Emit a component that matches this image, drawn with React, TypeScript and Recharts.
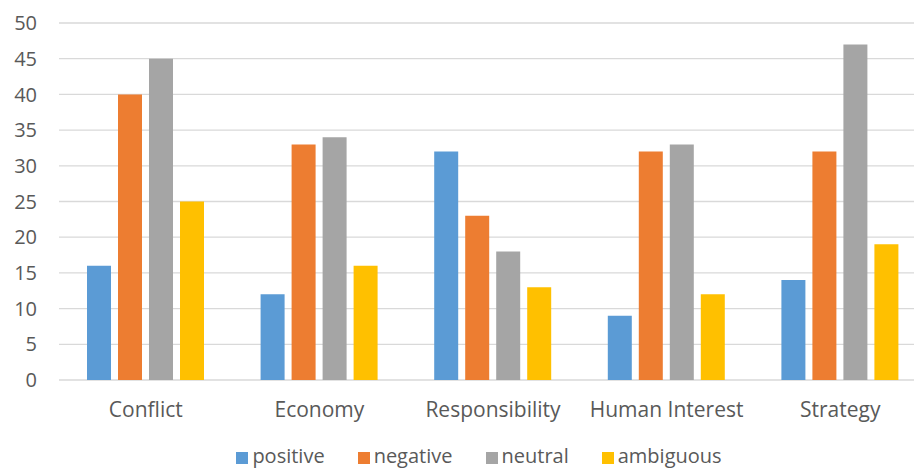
import { BarChart, Bar, XAxis, YAxis, CartesianGrid } from 'recharts';

const categories = ['Conflict', 'Economy', 'Responsibility', 'Human Interest', 'Strategy'];
const positive = [16, 12, 32, 9, 14];
const negative = [40, 33, 23, 32, 32];
const neutral = [45, 34, 18, 33, 47];
const ambiguous = [25, 16, 13, 12, 19];
const yTicks = [0, 5, 10, 15, 20, 25, 30, 35, 40, 45, 50];

const series = [
  { key: 'positive', color: '#5B9BD5' },
  { key: 'negative', color: '#ED7D31' },
  { key: 'neutral', color: '#A5A5A5' },
  { key: 'ambiguous', color: '#FFC000' },
];

const data = categories.map((name, i) => ({
  name,
  positive: positive[i],
  negative: negative[i],
  neutral: neutral[i],
  ambiguous: ambiguous[i],
}));

const FONT = '"Open Sans", sans-serif';
const TEXT = '#595959';

function LegendRow() {
  return (
    <div
      style={{
        position: 'absolute',
        top: 443,
        left: 0,
        width: 914,
        display: 'flex',
        justifyContent: 'center',
        gap: 33,
        paddingLeft: 44,
        boxSizing: 'border-box',
        fontFamily: FONT,
        fontSize: 20,
        color: TEXT,
        lineHeight: '26px',
      }}
    >
      {series.map((s) => (
        <div key={s.key} style={{ display: 'flex', alignItems: 'center' }}>
          <span style={{ width: 12, height: 12, background: s.color, marginRight: 4, marginTop: 3 }} />
          <span>{s.key}</span>
        </div>
      ))}
    </div>
  );
}

export default function App() {
  return (
    <div
      style={{
        position: 'fixed',
        top: 0,
        left: 0,
        width: 914,
        height: 473,
        overflow: 'hidden',
        background: '#fff',
      }}
    >
      <BarChart
        width={927}
        height={473}
        data={data}
        margin={{ top: 23, right: 0, left: 0, bottom: 0 }}
        barSize={24}
        barGap={7}
      >
        <CartesianGrid horizontal vertical={false} stroke="#D9D9D9" strokeWidth={1.3} />
        <XAxis
          dataKey="name"
          axisLine={false}
          tickLine={false}
          height={93}
          tickMargin={16}
          interval={0}
          tick={{ fill: TEXT, fontSize: 21, fontFamily: FONT }}
        />
        <YAxis
          width={59}
          domain={[0, 50]}
          ticks={yTicks}
          axisLine={false}
          tickLine={false}
          tickMargin={16}
          tick={{ fill: TEXT, fontSize: 20, fontFamily: FONT }}
        />
        {series.map((s) => (
          <Bar key={s.key} dataKey={s.key} fill={s.color} isAnimationActive={false} />
        ))}
      </BarChart>
      <LegendRow />
    </div>
  );
}
